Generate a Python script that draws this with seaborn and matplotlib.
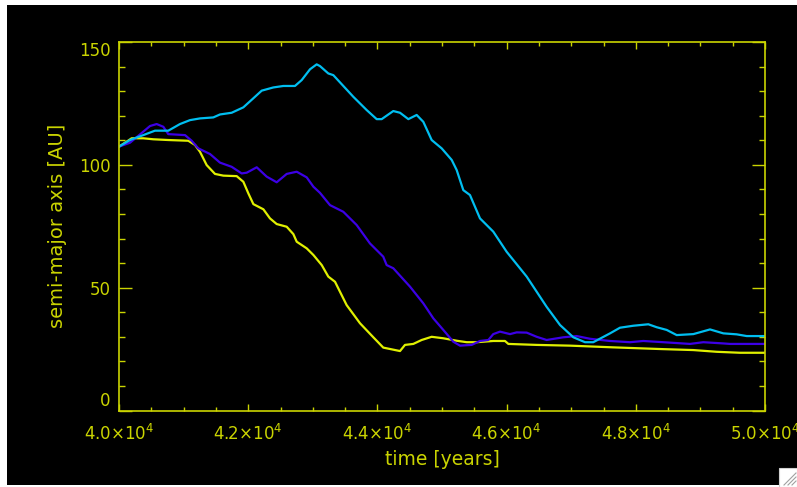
import seaborn as sns
import pandas as pd
import matplotlib.pyplot as plt
from matplotlib.patches import Rectangle
from matplotlib.lines import Line2D
from matplotlib.ticker import MultipleLocator

# semi-major axis [AU] vs time [years]
t_cyan = [40000, 40170, 40376, 40557, 40763, 40944, 41099, 41254, 41460, 41563,
          41744, 41925, 42080, 42209, 42389, 42544, 42724, 42828, 42957, 43060,
          43111, 43240, 43318, 43627, 43834, 43989, 44066, 44246, 44350, 44479,
          44608, 44711, 44840, 44995, 45150, 45227, 45330, 45433, 45588, 45794,
          46001, 46311, 46517, 46620, 46827, 47033, 47214, 47342, 47601, 47755,
          47961, 48194, 48323, 48478, 48633, 48891, 49149, 49355, 49562, 49717, 50000]
a_cyan = [107.4, 110.1, 112.1, 113.9, 113.9, 116.6, 118.2, 118.9, 119.3, 120.5,
          121.2, 123.4, 127.1, 130.2, 131.5, 132.1, 132.1, 134.5, 138.9, 140.9,
          140.2, 137.2, 136.5, 127.7, 122.3, 118.6, 118.6, 121.9, 121.2, 118.6,
          120.3, 117.5, 110.1, 106.7, 102.0, 97.9, 89.7, 87.7, 78.2, 72.8,
          64.6, 54.5, 46.3, 42.2, 34.8, 29.8, 27.8, 27.8, 31.4, 33.7,
          34.5, 35.1, 33.9, 32.8, 30.7, 31.1, 33.0, 31.4, 31.0, 30.3, 30.3]

t_blue = [40000, 40170, 40376, 40480, 40583, 40686, 40763, 41022, 41125, 41228,
          41409, 41563, 41744, 41899, 41977, 42132, 42286, 42441, 42596, 42751,
          42906, 43009, 43111, 43266, 43472, 43679, 43885, 44091, 44143, 44246,
          44505, 44711, 44866, 45020, 45175, 45279, 45459, 45588, 45717, 45794,
          45898, 46053, 46156, 46311, 46466, 46620, 46878, 47085, 47291, 47601,
          47910, 48116, 48426, 48839, 49045, 49355, 49458, 50000]
a_blue = [107.4, 109.0, 113.5, 115.8, 116.6, 115.5, 112.5, 112.1, 109.8, 106.7,
          104.4, 100.9, 99.2, 96.5, 96.8, 99.0, 95.2, 92.9, 96.3, 97.2,
          94.9, 91.1, 88.6, 83.6, 80.9, 75.5, 68.0, 62.6, 59.2, 57.9,
          50.4, 43.6, 37.5, 32.8, 28.0, 26.4, 26.7, 28.3, 28.7, 31.1,
          32.1, 31.1, 31.8, 31.7, 30.0, 28.7, 29.8, 30.3, 29.2, 28.3,
          27.8, 28.3, 27.8, 27.1, 27.8, 27.3, 27.1, 27.1]

t_yellow = [40000, 40093, 40196, 40376, 40531, 40763, 41073, 41176, 41254, 41357,
            41486, 41615, 41822, 41925, 42002, 42080, 42235, 42337, 42441, 42596,
            42699, 42751, 42906, 43009, 43138, 43240, 43344, 43524, 43731, 43937,
            44091, 44350, 44427, 44556, 44685, 44840, 45020, 45227, 45382, 45537,
            45794, 45975, 46027, 46466, 46981, 47652, 48400, 48891, 49252, 49613, 50000]
a_yellow = [107.4, 109.0, 110.8, 110.8, 110.4, 110.1, 109.8, 108.1, 105.3, 99.9,
            96.3, 95.6, 95.4, 93.1, 88.4, 84.0, 81.9, 78.2, 75.9, 74.8,
            71.8, 68.7, 66.0, 63.3, 59.2, 54.5, 52.4, 42.9, 35.5, 29.8,
            25.6, 24.2, 26.7, 27.1, 28.7, 30.0, 29.4, 28.4, 27.8, 27.8,
            28.3, 28.3, 27.1, 26.7, 26.4, 25.7, 25.0, 24.6, 23.9, 23.5, 23.5]

x_ticks = [40000, 42000, 44000, 46000, 48000, 50000]
x_labels = ["4.0×10$^4$", "4.2×10$^4$", "4.4×10$^4$", "4.6×10$^4$", "4.8×10$^4$", "5.0×10$^4$"]
y_ticks = [0, 50, 100, 150]

fg = "#cad400"
W, H = 797, 487

fig = plt.figure(figsize=(W / 100, H / 100), dpi=100, facecolor="white")
# black plot window
fig.patches.append(Rectangle((7 / W, 2 / H), 790 / W, 480 / H, transform=fig.transFigure,
                             facecolor="black", edgecolor="none", zorder=-10))
# little resize grip bottom right
fig.patches.append(Rectangle((779 / W, 0), 18 / W, 19 / H, transform=fig.transFigure,
                             facecolor="white", edgecolor="#d0d0d0", lw=0.8, zorder=-5))
for k in range(3):
    d = 4 + 4 * k
    fig.lines.append(Line2D([(796 - d) / W, 796 / W], [2 / H, (2 + d) / H],
                            transform=fig.transFigure, color="#a0a0a0", lw=0.8, zorder=-4))

ax = fig.add_axes([119 / W, (H - 410.5) / H, 646 / W, 368.5 / H])
ax.set_facecolor("black")

series = [(t_yellow, a_yellow, "#e0f000"), (t_blue, a_blue, "#3c00e6"), (t_cyan, a_cyan, "#00bef0")]
for t, a, col in series:
    df = pd.DataFrame({"time": t, "a": a})
    sns.lineplot(data=df, x="time", y="a", ax=ax, color=col, lw=1.6, sort=False)

ax.set_xlim(40000, 50000)
ax.set_ylim(0, 150)
ax.set_xticks(x_ticks)
ax.set_xticklabels(x_labels)
ax.set_yticks(y_ticks)
ax.xaxis.set_minor_locator(MultipleLocator(500))
ax.yaxis.set_minor_locator(MultipleLocator(10))

for s in ax.spines.values():
    s.set_color(fg)
    s.set_linewidth(1.2)
ax.tick_params(axis="both", which="both", direction="in", colors=fg,
               top=True, right=True, width=1.0, labelsize=12)
ax.tick_params(axis="x", which="major", length=5.2, pad=10)
ax.tick_params(axis="x", which="minor", length=2.8)
ax.tick_params(axis="y", which="major", length=9.3, pad=6)
ax.tick_params(axis="y", which="minor", length=4.5)

ylabs = ax.get_yticklabels()
ylabs[0].set_va("bottom")
ylabs[-1].set_va("top")

ax.set_xlabel("time [years]", color=fg, fontsize=13.5, labelpad=4)
ax.set_ylabel("semi-major axis [AU]", color=fg, fontsize=14, labelpad=9)

fig.savefig("out.png", dpi=100, facecolor="white")
